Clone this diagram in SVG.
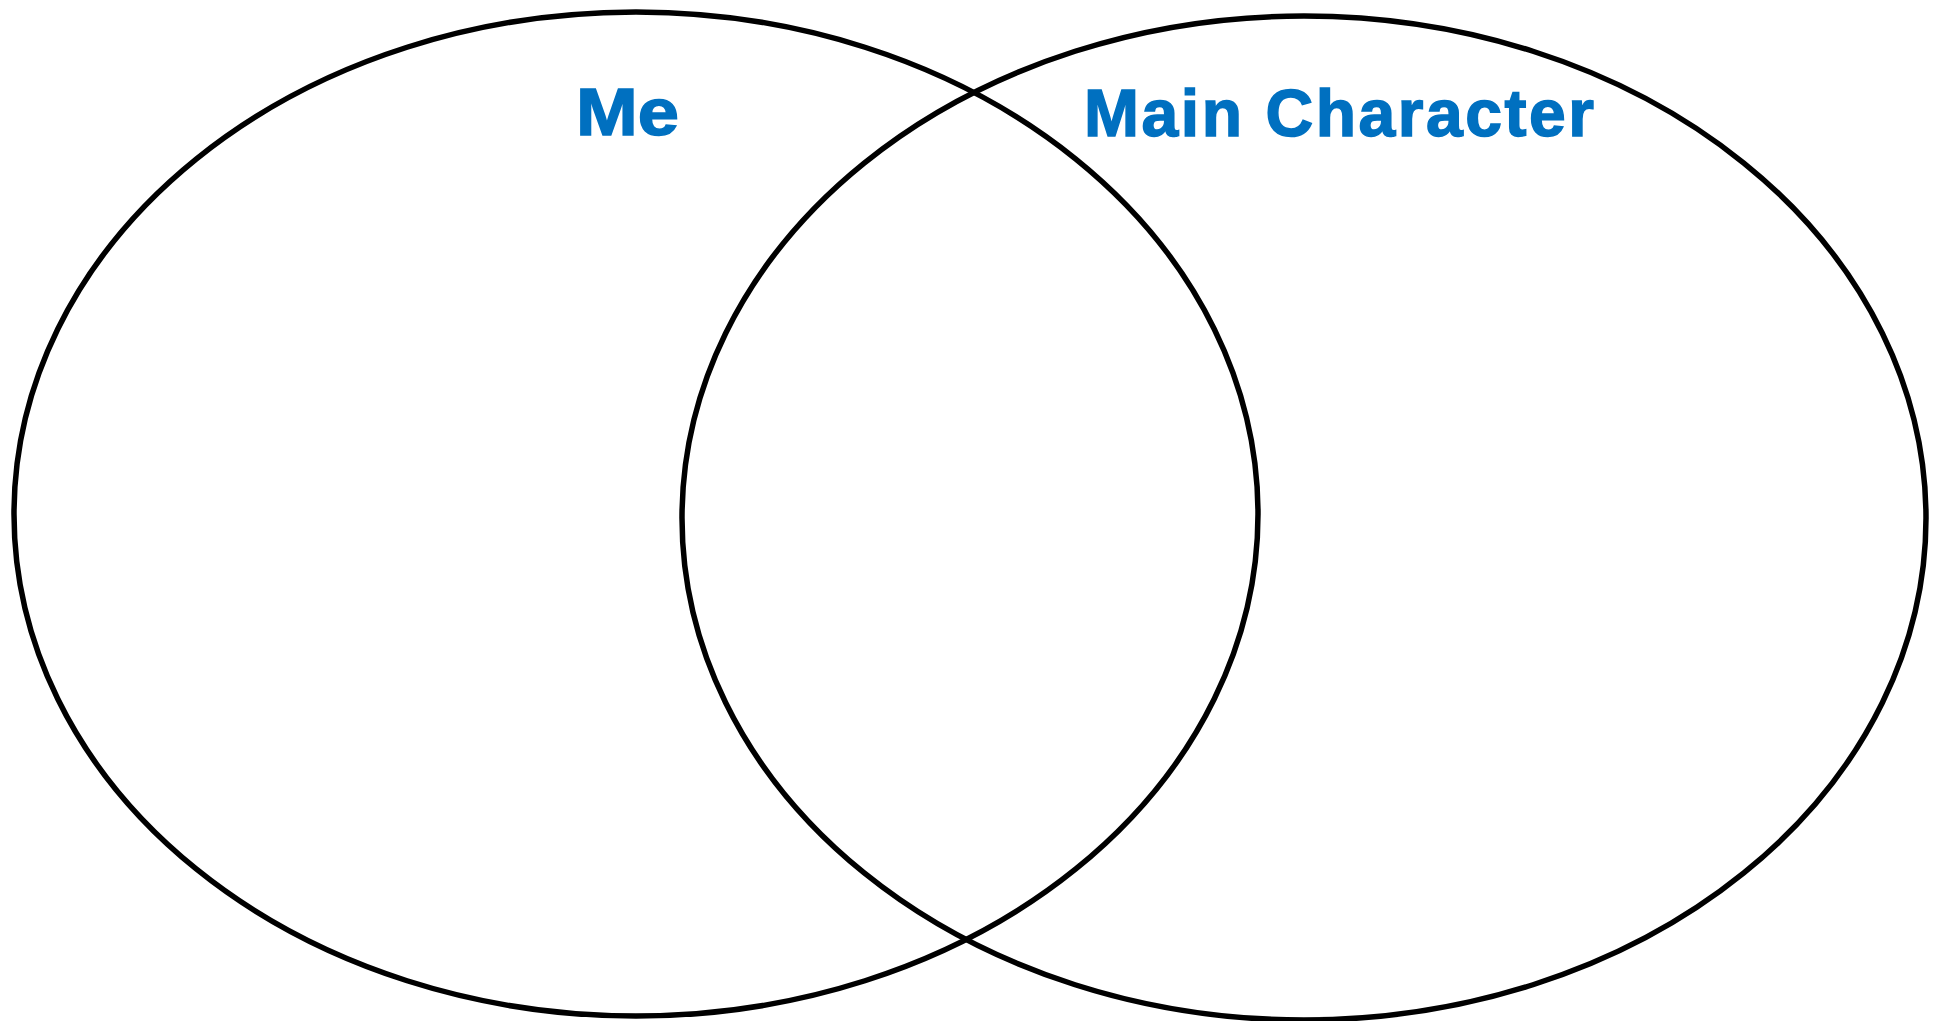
<svg xmlns="http://www.w3.org/2000/svg" width="1939" height="1021" viewBox="0 0 1939 1021">
<style>
.ring{fill:none;stroke:#000;stroke-width:5.5}
.lbl{font-family:"Liberation Sans",Arial,sans-serif;font-weight:bold;font-size:66px;fill:#0070C0;stroke:#0070C0;stroke-width:1.5}
</style>
<rect width="1939" height="1021" fill="#fff"/>
<g id="connectors"></g>
<g id="me-set">
<ellipse class="ring" cx="636" cy="514" rx="622" ry="502"/>
<text class="lbl" x="576" y="135" textLength="103" lengthAdjust="spacingAndGlyphs">Me</text>
</g>
<g id="character-set">
<ellipse class="ring" cx="1304" cy="518" rx="622" ry="502"/>
<text class="lbl" x="1084" y="136" textLength="510" lengthAdjust="spacing">Main Character</text>
</g>
</svg>
